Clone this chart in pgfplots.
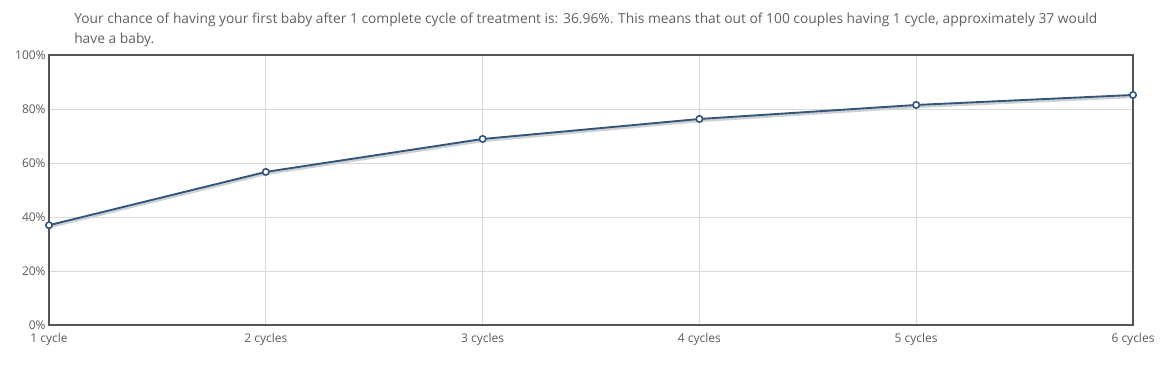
\documentclass[border=0pt]{standalone}
\usepackage{pgfplots}
\pgfplotsset{compat=1.18}
\usepackage{fontspec}
\setmainfont{Open Sans}
\definecolor{linec}{HTML}{34557A}
\definecolor{framec}{HTML}{555555}
\definecolor{gridc}{HTML}{D9D9D9}
\definecolor{textc}{HTML}{5A5A5A}
\definecolor{titlec}{HTML}{606060}
\definecolor{shadowc}{HTML}{CDD0D5}
\begin{document}
\begin{tikzpicture}[x=1pt,y=1pt]
\useasboundingbox (0,0) rectangle (879.75,273);
\node[anchor=north west, align=left, text=titlec, font=\fontsize{10.35}{15}\selectfont, inner sep=0pt] at (55.5,263.3)
{Your chance of having your first baby after 1 complete cycle of treatment is: 36.96\%. This means that out of 100 couples having 1 cycle, approximately 37 would\\have a baby.};
\begin{axis}[
  at={(36.75pt,29.25pt)}, anchor=south west,
  width=813pt, height=202.5pt, scale only axis,
  xmin=0, xmax=5, ymin=0, ymax=100,
  xtick={0,1,2,3,4,5},
  xticklabels={1 cycle,2 cycles,3 cycles,4 cycles,5 cycles,6 cycles},
  ytick={0,20,40,60,80,100},
  yticklabels={0\%,20\%,40\%,60\%,80\%,100\%},
  grid=major,
  grid style={gridc, line width=0.6pt},
  axis line style={framec, line width=1.5pt},
  tick style={draw=none},
  ticklabel style={text=textc, font=\fontsize{9}{10}\selectfont},
  yticklabel style={xshift=1pt},
  xticklabel style={yshift=-3pt},
  clip=false,
]
\addplot[shadowc, line width=2.2pt, transform canvas={yshift=-1.3pt}] coordinates {
(0,36.96) (1,56.7) (2,68.9) (3,76.3) (4,81.5) (5,85.2)};
\addplot[linec, line width=1.4pt, mark=*, mark size=2.4pt, mark options={fill=white, draw=linec, line width=1.2pt}] coordinates {
(0,36.96) (1,56.7) (2,68.9) (3,76.3) (4,81.5) (5,85.2)};
\end{axis}
\end{tikzpicture}
\end{document}
